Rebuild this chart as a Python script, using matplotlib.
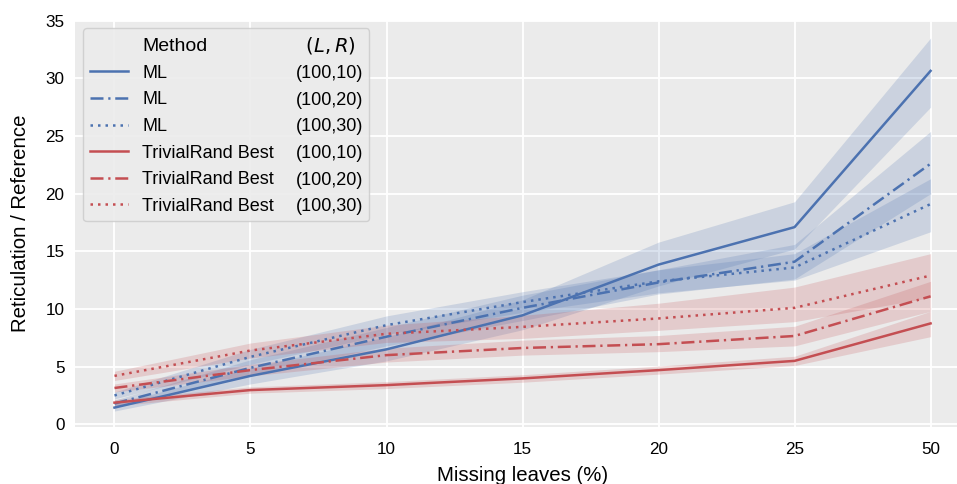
import matplotlib
matplotlib.use("Agg")
import matplotlib.pyplot as plt
from matplotlib.lines import Line2D

plt.rcParams['font.family'] = ['Liberation Sans', 'DejaVu Sans']

categories = ["0", "5", "10", "15", "20", "25", "50"]

ml_10 = [1.45, 4.2, 6.5, 9.45, 13.85, 17.1, 30.65]
ml_10_lo = [1.15, 3.5, 5.5, 8.2, 12.0, 15.2, 27.5]
ml_10_hi = [1.75, 4.9, 7.6, 10.8, 15.8, 19.3, 33.5]

ml_20 = [1.8, 4.9, 7.6, 10.1, 12.3, 14.1, 22.6]
ml_20_lo = [1.5, 4.2, 6.8, 9.0, 11.3, 12.6, 20.0]
ml_20_hi = [2.1, 5.6, 8.4, 11.2, 13.4, 15.6, 25.4]

ml_30 = [2.5, 5.85, 8.6, 10.6, 12.4, 13.6, 19.1]
ml_30_lo = [2.2, 5.2, 7.8, 9.7, 11.4, 12.5, 16.7]
ml_30_hi = [2.8, 6.5, 9.4, 11.5, 13.4, 14.8, 21.3]

tr_10 = [1.88, 2.97, 3.4, 3.98, 4.7, 5.5, 8.75]
tr_10_lo = [1.6, 2.7, 3.1, 3.65, 4.35, 5.1, 7.6]
tr_10_hi = [2.15, 3.25, 3.7, 4.3, 5.05, 5.9, 9.8]

tr_20 = [3.15, 4.7, 6.0, 6.62, 6.95, 7.66, 11.1]
tr_20_lo = [2.8, 4.2, 5.4, 6.0, 6.3, 6.8, 9.8]
tr_20_hi = [3.5, 5.2, 6.6, 7.3, 7.7, 8.5, 12.4]

tr_30 = [4.2, 6.4, 7.85, 8.45, 9.18, 10.1, 12.9]
tr_30_lo = [3.8, 5.75, 7.1, 7.45, 8.15, 8.9, 11.0]
tr_30_hi = [4.6, 7.05, 8.6, 9.45, 10.5, 11.9, 14.8]

methods = ["ML", "ML", "ML", "TrivialRand Best", "TrivialRand Best", "TrivialRand Best"]
lr_labels = ["(100,10)", "(100,20)", "(100,30)", "(100,10)", "(100,20)", "(100,30)"]

BLUE = "#4C72B0"
RED = "#C44E52"
SOLID = "-"
DASHDOT = (0, (5.2, 1.9, 0.9, 1.9))
DOTTED = (0, (1.0, 2.0))

series = [
    (ml_10, ml_10_lo, ml_10_hi, BLUE, SOLID),
    (ml_20, ml_20_lo, ml_20_hi, BLUE, DASHDOT),
    (ml_30, ml_30_lo, ml_30_hi, BLUE, DOTTED),
    (tr_10, tr_10_lo, tr_10_hi, RED, SOLID),
    (tr_20, tr_20_lo, tr_20_hi, RED, DASHDOT),
    (tr_30, tr_30_lo, tr_30_hi, RED, DOTTED),
]

fig = plt.figure(figsize=(9.57, 4.84), dpi=100)
ax = fig.add_axes([0.0784, 0.1188, 0.9352, 0.8384])
ax.set_facecolor("#EBEBEB")
for s in ax.spines.values():
    s.set_visible(False)
ax.grid(True, color="white", linewidth=1.3)
ax.set_axisbelow(True)

handles = []
for mean, lo, hi, color, ls in series:
    ax.fill_between(categories, lo, hi, color=color, alpha=0.2, linewidth=0)
    h, = ax.plot(categories, mean, color=color, linestyle=ls, linewidth=1.8)
    handles.append(h)

ax.set_xlim(-0.29, 6.29)
ax.set_ylim(-0.19, 35.0)
ax.set_yticks([0, 5, 10, 15, 20, 25, 30, 35])
ax.tick_params(axis='x', length=0, pad=11, labelsize=12.3)
ax.tick_params(axis='y', length=0, pad=7.5, labelsize=12.3)

ax.set_xlabel("Missing leaves (%)", fontsize=14.7)
ax.set_ylabel("Reticulation / Reference", fontsize=14.7)
ax.xaxis.set_label_coords(0.5, -0.097)
ax.yaxis.set_label_coords(-0.050, 0.5)

blank = Line2D([], [], linestyle="none")
leg_handles = [blank] + handles + [blank] * 7
leg_labels = ["Method"] + methods + ["  $(L,R)$"] + lr_labels
leg = ax.legend(leg_handles, leg_labels, ncol=2, loc="upper left",
                bbox_to_anchor=(0.0093, 0.981), borderaxespad=0,
                fontsize=13, handlelength=2.1, handletextpad=0.8,
                columnspacing=-1.7, labelspacing=0.53, borderpad=0.35,
                frameon=True, fancybox=True, facecolor="#EBEBEB",
                edgecolor="#CCCCCC", framealpha=0.85)
leg.get_texts()[0].set_fontsize(14)
leg.get_texts()[7].set_fontsize(14)

fig.savefig("out.png", dpi=100)
